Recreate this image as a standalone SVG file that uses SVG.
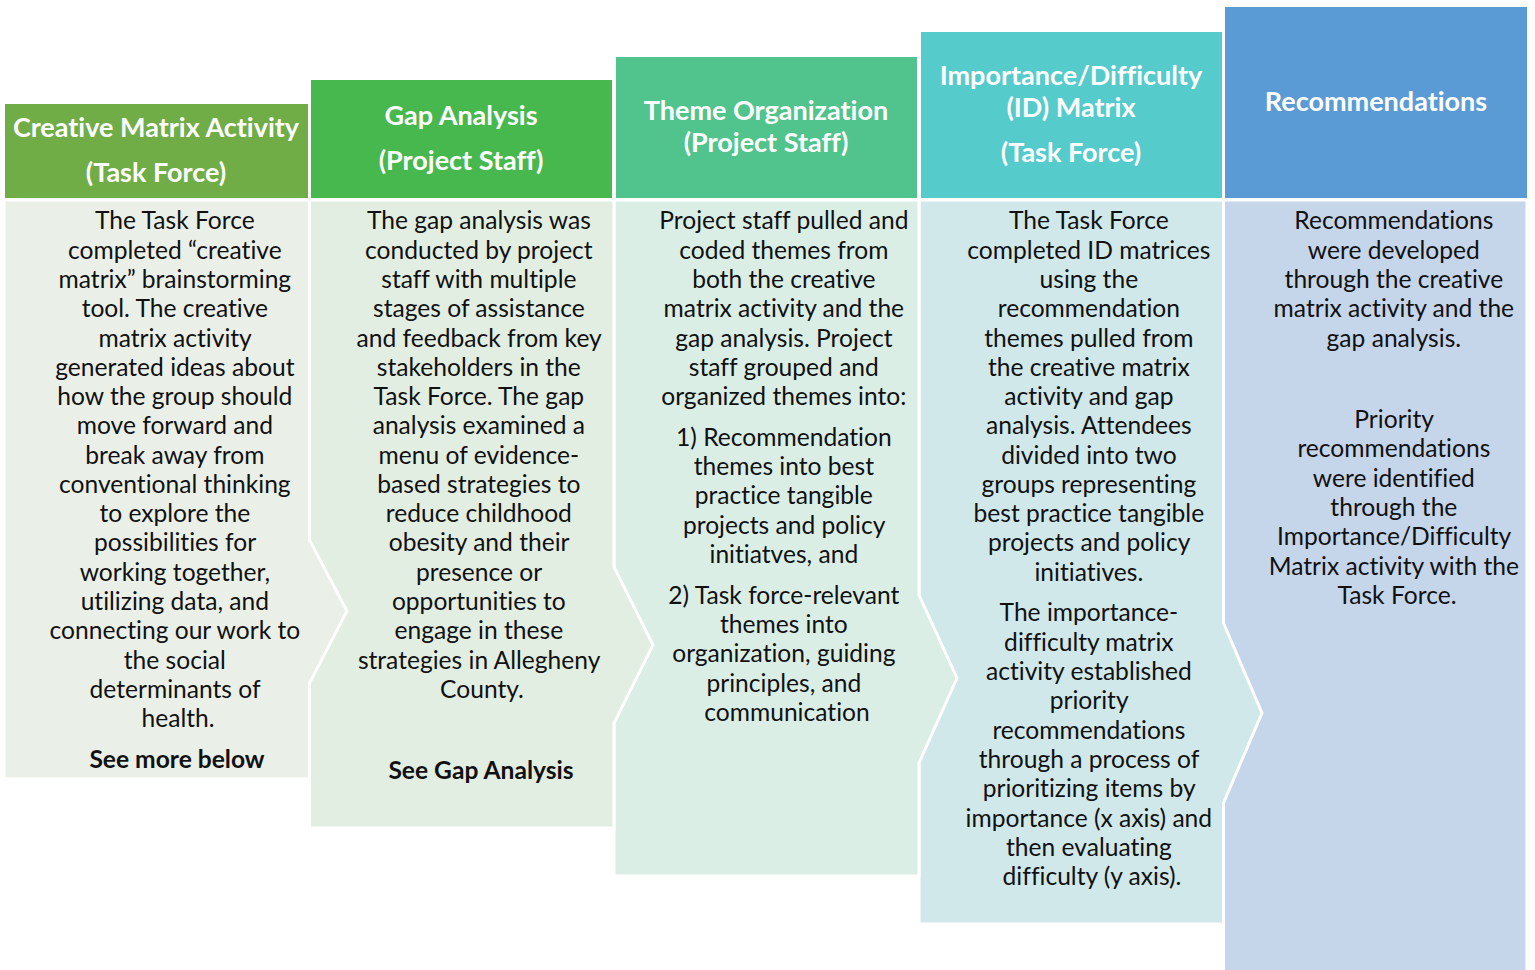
<svg xmlns="http://www.w3.org/2000/svg" width="1535" height="970" viewBox="0 0 1535 970">
  <style>
    text { font-variant-ligatures: none; font-feature-settings: "liga" 0, "clig" 0, "dlig" 0, "calt" 0; }
    .hd { font-family: Lato, "Open Sans", "Liberation Sans", sans-serif; font-weight: 700; font-size: 27px; fill: #ffffff; text-anchor: middle; }
    .bd { font-family: Lato, "Open Sans", "Liberation Sans", sans-serif; font-size: 24.6px; fill: #111111; text-anchor: middle; }
    .bb { font-weight: 700; }
    .panel { stroke: #ffffff; stroke-width: 3; stroke-linejoin: miter; }
  </style>
  <rect width="1535" height="970" fill="#ffffff"/>

  <!-- Body panels, drawn right to left so each chevron sits over the next panel -->
  <g id="panels">
    <path class="panel" fill="#C5D5EA" d="M1223.5,200 H1527 V972 H1223.5 Z"/>
    <path class="panel" fill="#D0E8EA" d="M919,200 H1223.5 V623 L1262,713 L1223.5,803 V924 H919 Z"/>
    <path class="panel" fill="#DAEEE6" d="M614,200 H919 V595 L957,678 L919,763 V876 H614 Z"/>
    <path class="panel" fill="#E1EEE1" d="M309.5,200 H614 V567 L653,645 L614,723 V828 H309.5 Z"/>
    <path class="panel" fill="#EAF0E8" d="M4,200 H309.5 V540 L347,611 L309.5,683 V779 H4 Z"/>
  </g>

  <g id="connectors"></g>

  <!-- Column 1: Creative Matrix Activity -->
  <g id="creative-matrix">
    <rect x="5" y="104" width="303" height="94" fill="#70AD47"/>
    <text class="hd" x="156" y="137">Creative Matrix Activity</text>
    <text class="hd" x="156" y="182">(Task Force)</text>
    <text class="bd">
      <tspan x="178" y="229">The Task Force</tspan>
      <tspan x="178" y="259">completed “creative</tspan>
      <tspan x="178" y="288">matrix” brainstorming</tspan>
      <tspan x="178" y="317">tool. The creative</tspan>
      <tspan x="178" y="347">matrix activity</tspan>
      <tspan x="178" y="376">generated ideas about</tspan>
      <tspan x="178" y="405">how the group should</tspan>
      <tspan x="178" y="434">move forward and</tspan>
      <tspan x="178" y="464">break away from</tspan>
      <tspan x="178" y="493">conventional thinking</tspan>
      <tspan x="178" y="522">to explore the</tspan>
      <tspan x="178" y="551">possibilities for</tspan>
      <tspan x="178" y="581">working together,</tspan>
      <tspan x="178" y="610">utilizing data, and</tspan>
      <tspan x="178" y="639">connecting our work to</tspan>
      <tspan x="178" y="669">the social</tspan>
      <tspan x="178" y="698">determinants of</tspan>
      <tspan x="178" y="727">health.</tspan>
    </text>
    <text class="bd bb" x="177" y="768">See more below</text>
  </g>

  <!-- Column 2: Gap Analysis -->
  <g id="gap-analysis">
    <rect x="311" y="80" width="301" height="118" fill="#47B84E"/>
    <text class="hd" x="461" y="125">Gap Analysis</text>
    <text class="hd" x="461" y="170">(Project Staff)</text>
    <text class="bd">
      <tspan x="482" y="229">The gap analysis was</tspan>
      <tspan x="482" y="259">conducted by project</tspan>
      <tspan x="482" y="288">staff with multiple</tspan>
      <tspan x="482" y="317">stages of assistance</tspan>
      <tspan x="482" y="347">and feedback from key</tspan>
      <tspan x="482" y="376">stakeholders in the</tspan>
      <tspan x="482" y="405">Task Force. The gap</tspan>
      <tspan x="482" y="434">analysis examined a</tspan>
      <tspan x="482" y="464">menu of evidence-</tspan>
      <tspan x="482" y="493">based strategies to</tspan>
      <tspan x="482" y="522">reduce childhood</tspan>
      <tspan x="482" y="551">obesity and their</tspan>
      <tspan x="482" y="581">presence or</tspan>
      <tspan x="482" y="610">opportunities to</tspan>
      <tspan x="482" y="639">engage in these</tspan>
      <tspan x="482" y="669">strategies in Allegheny</tspan>
      <tspan x="482" y="698">County.</tspan>
    </text>
    <text class="bd bb" x="481" y="779">See Gap Analysis</text>
  </g>

  <!-- Column 3: Theme Organization -->
  <g id="theme-organization">
    <rect x="616" y="57" width="301" height="141" fill="#51C48D"/>
    <text class="hd" x="766" y="120">Theme Organization</text>
    <text class="hd" x="766" y="152">(Project Staff)</text>
    <text class="bd">
      <tspan x="787" y="229">Project staff pulled and</tspan>
      <tspan x="787" y="259">coded themes from</tspan>
      <tspan x="787" y="288">both the creative</tspan>
      <tspan x="787" y="317">matrix activity and the</tspan>
      <tspan x="787" y="347">gap analysis. Project</tspan>
      <tspan x="787" y="376">staff grouped and</tspan>
      <tspan x="787" y="405">organized themes into:</tspan>
      <tspan x="787" y="446">1) Recommendation</tspan>
      <tspan x="787" y="475">themes into best</tspan>
      <tspan x="787" y="504">practice tangible</tspan>
      <tspan x="787" y="534">projects and policy</tspan>
      <tspan x="787" y="563">initiatves, and</tspan>
      <tspan x="787" y="604">2) Task force-relevant</tspan>
      <tspan x="787" y="633">themes into</tspan>
      <tspan x="787" y="662">organization, guiding</tspan>
      <tspan x="787" y="692">principles, and</tspan>
      <tspan x="787" y="721">communication</tspan>
    </text>
  </g>

  <!-- Column 4: Importance/Difficulty (ID) Matrix -->
  <g id="id-matrix">
    <rect x="921" y="32" width="301" height="166" fill="#55CBCC"/>
    <text class="hd" x="1071" y="85">Importance/Difficulty</text>
    <text class="hd" x="1071" y="117">(ID) Matrix</text>
    <text class="hd" x="1071" y="162">(Task Force)</text>
    <text class="bd">
      <tspan x="1092" y="229">The Task Force</tspan>
      <tspan x="1092" y="259">completed ID matrices</tspan>
      <tspan x="1092" y="288">using the</tspan>
      <tspan x="1092" y="317">recommendation</tspan>
      <tspan x="1092" y="347">themes pulled from</tspan>
      <tspan x="1092" y="376">the creative matrix</tspan>
      <tspan x="1092" y="405">activity and gap</tspan>
      <tspan x="1092" y="434">analysis. Attendees</tspan>
      <tspan x="1092" y="464">divided into two</tspan>
      <tspan x="1092" y="493">groups representing</tspan>
      <tspan x="1092" y="522">best practice tangible</tspan>
      <tspan x="1092" y="551">projects and policy</tspan>
      <tspan x="1092" y="581">initiatives.</tspan>
      <tspan x="1092" y="621">The importance-</tspan>
      <tspan x="1092" y="651">difficulty matrix</tspan>
      <tspan x="1092" y="680">activity established</tspan>
      <tspan x="1092" y="709">priority</tspan>
      <tspan x="1092" y="739">recommendations</tspan>
      <tspan x="1092" y="768">through a process of</tspan>
      <tspan x="1092" y="797">prioritizing items by</tspan>
      <tspan x="1092" y="827">importance (x axis) and</tspan>
      <tspan x="1092" y="856">then evaluating</tspan>
      <tspan x="1092" y="885">difficulty (y axis).</tspan>
    </text>
  </g>

  <!-- Column 5: Recommendations -->
  <g id="recommendations">
    <rect x="1225" y="7" width="302" height="191" fill="#5B9BD5"/>
    <text class="hd" x="1376" y="111">Recommendations</text>
    <text class="bd">
      <tspan x="1397" y="229">Recommendations</tspan>
      <tspan x="1397" y="259">were developed</tspan>
      <tspan x="1397" y="288">through the creative</tspan>
      <tspan x="1397" y="317">matrix activity and the</tspan>
      <tspan x="1397" y="347">gap analysis.</tspan>
      <tspan x="1397" y="428">Priority</tspan>
      <tspan x="1397" y="457">recommendations</tspan>
      <tspan x="1397" y="487">were identified</tspan>
      <tspan x="1397" y="516">through the</tspan>
      <tspan x="1397" y="545">Importance/Difficulty</tspan>
      <tspan x="1397" y="575">Matrix activity with the</tspan>
      <tspan x="1397" y="604">Task Force.</tspan>
    </text>
  </g>
</svg>
